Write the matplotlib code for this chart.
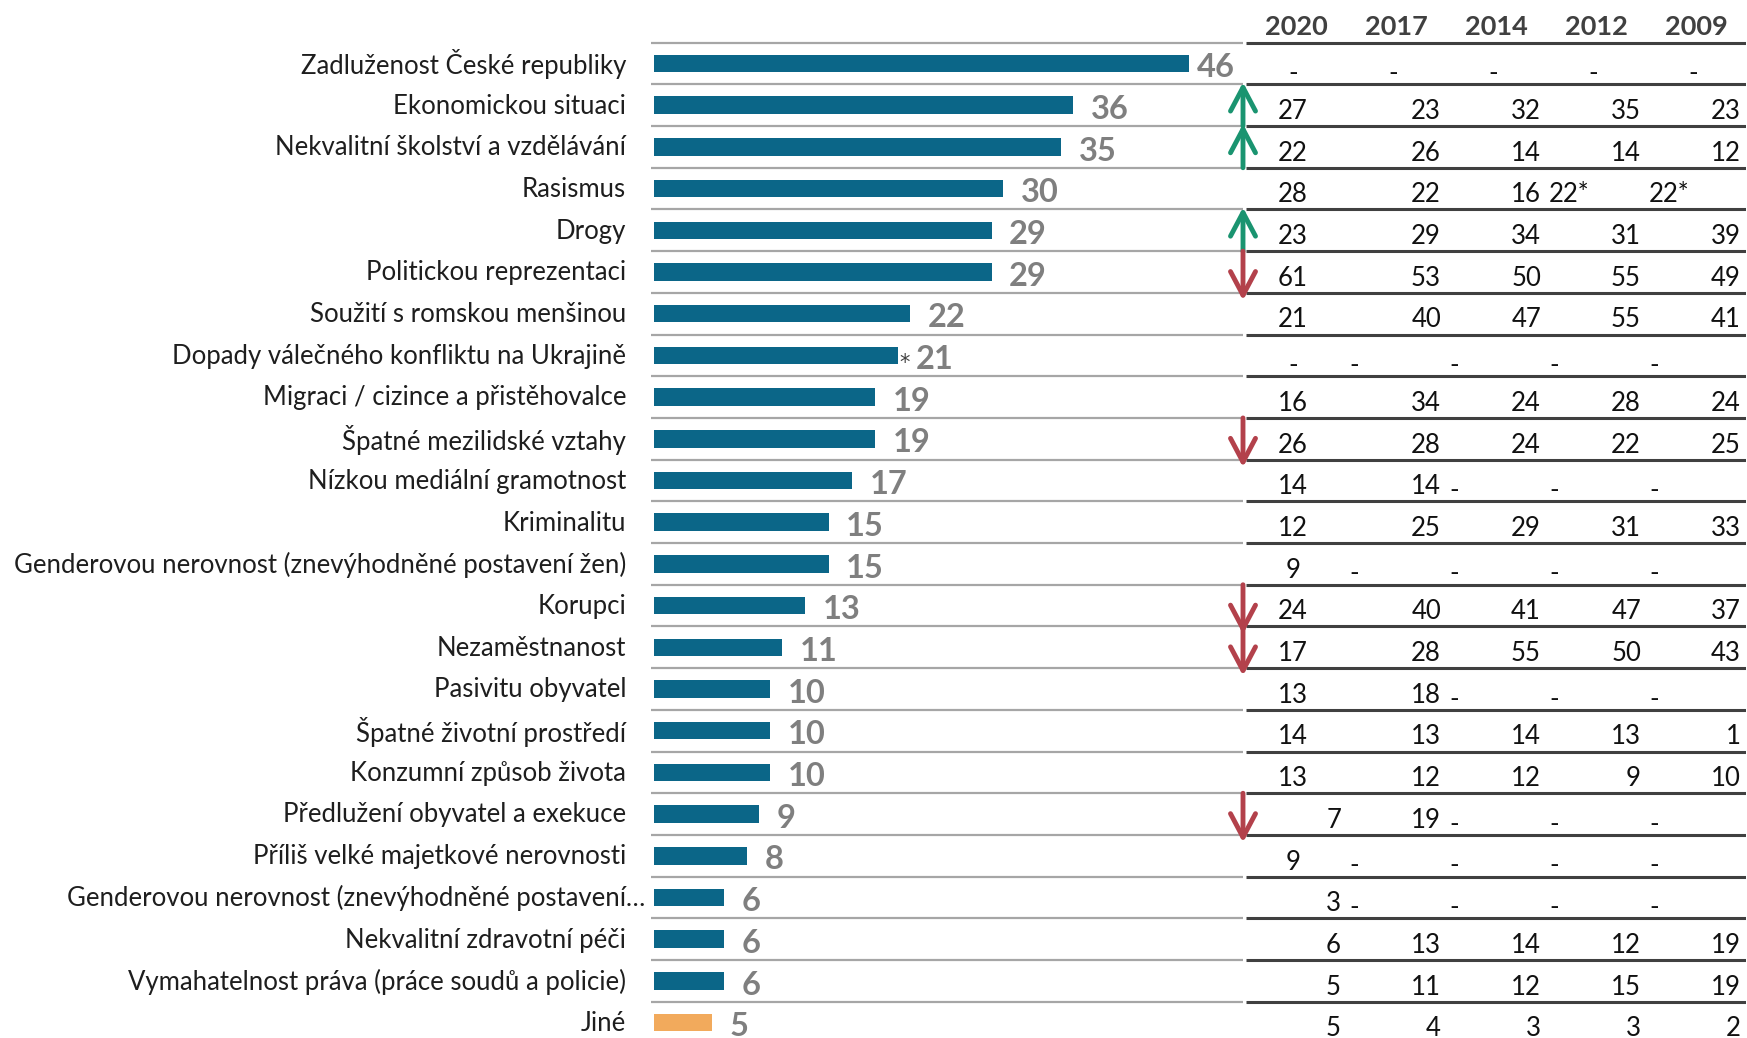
import numpy as np
import matplotlib
matplotlib.use("Agg")
import matplotlib.pyplot as plt

plt.rcParams['font.family'] = ['Lato', 'DejaVu Sans']

# categories (top to bottom) and share in %
categories = [
    "Zadluženost České republiky",
    "Ekonomickou situaci",
    "Nekvalitní školství a vzdělávání",
    "Rasismus",
    "Drogy",
    "Politickou reprezentaci",
    "Soužití s romskou menšinou",
    "Dopady válečného konfliktu na Ukrajině",
    "Migraci / cizince a přistěhovalce",
    "Špatné mezilidské vztahy",
    "Nízkou mediální gramotnost",
    "Kriminalitu",
    "Genderovou nerovnost (znevýhodněné postavení žen)",
    "Korupci",
    "Nezaměstnanost",
    "Pasivitu obyvatel",
    "Špatné životní prostředí",
    "Konzumní způsob života",
    "Předlužení obyvatel a exekuce",
    "Příliš velké majetkové nerovnosti",
    "Genderovou nerovnost (znevýhodněné postavení…",
    "Nekvalitní zdravotní péči",
    "Vymahatelnost práva (práce soudů a policie)",
    "Jiné",
]
values = [46, 36, 35, 30, 29, 29, 22, 21, 19, 19, 17, 15, 15, 13, 11, 10, 10, 10, 9, 8, 6, 6, 6, 5]
starred = [7]  # "*" next to the bar

# comparison table with earlier waves
years = ["2020", "2017", "2014", "2012", "2009"]
col_2020 = ["-", "27", "22", "28", "23", "61", "21", "-", "16", "26", "14", "12", "9", "24",
            "17", "13", "14", "13", "7", "9", "3", "6", "5", "5"]
col_2017 = ["-", "23", "26", "22", "29", "53", "40", "-", "34", "28", "14", "25", "-", "40",
            "28", "18", "13", "12", "19", "-", "-", "13", "11", "4"]
col_2014 = ["-", "32", "14", "16", "34", "50", "47", "-", "24", "24", "-", "29", "-", "41",
            "55", "-", "14", "12", "-", "-", "-", "14", "12", "3"]
col_2012 = ["-", "35", "14", "22*", "31", "55", "55", "-", "28", "22", "-", "31", "-", "47",
            "50", "-", "13", "9", "-", "-", "-", "12", "15", "3"]
col_2009 = ["-", "23", "12", "22*", "39", "49", "41", "-", "24", "25", "-", "33", "-", "37",
            "43", "-", "1", "10", "-", "-", "-", "19", "19", "2"]
table_cols = [col_2020, col_2017, col_2014, col_2012, col_2009]

# significant change vs 2020
arrow_rows = [1, 2, 4, 5, 9, 13, 14, 18]
arrow_dirs = ["up", "up", "up", "down", "down", "down", "down", "down"]

# styles
BLUE = "#0b6688"
ORANGE = "#f2aa5c"
GREEN = "#1a9470"
RED = "#b3414b"
right_2020 = [18, 20, 21, 22, 23]

W, H = 1747, 1038
fig = plt.figure(figsize=(W / 100, H / 100), dpi=100)
row0, step = 63.5, 41.7
ylim = ((H - row0) / step, -row0 / step)

# bar part
ax = fig.add_axes([646 / W, 0, (1243 - 646) / W, 1])
ax.set_xlim(-0.69, 50.6)
ax.set_ylim(*ylim)
y = np.arange(len(categories))
colors = [BLUE] * (len(values) - 1) + [ORANGE]
ax.barh(y, values, height=0.42, color=colors)
ax.hlines(np.arange(-0.5, len(categories) - 1), -0.25, 50.6, color="#a6a6a6", lw=1.6)
for i, v in enumerate(values):
    ax.text(min(v + 1.5, 46.6), i + 0.1, str(v), ha="left", va="center",
            fontsize=23.5, fontweight="bold", color="#7f7f7f")
for i in starred:
    ax.text(values[i] + 0.05, i + 0.18, "*", ha="left", va="center", fontsize=15,
            color="#404040", family="DejaVu Sans")
for i, lab in enumerate(categories):
    xo = -0.69 - 0.1 if lab.endswith("…") else -0.69 - 1.7
    ax.text(xo, i + 0.02, lab, ha="right", va="center", fontsize=18.5, color="#1e1e1e")
ax.axis("off")

# table part
tax = fig.add_axes([1246 / W, 0, 500 / W, 1])
tax.set_xlim(0, 5)
tax.set_ylim(*ylim)
tax.axis("off")
tax.hlines(np.arange(-0.5, len(categories) - 1), 0, 5, color="#404040", lw=2.2)
for c, yr in enumerate(years):
    tax.text(c + 0.5, -0.88, yr, ha="center", va="center", fontsize=19.5,
             fontweight="bold", color="#404040")
for c, col in enumerate(table_cols):
    for r, s in enumerate(col):
        if c == 0:
            if r in right_2020:
                ha, x = "right", c + 0.95
            else:
                ha, x = "center", c + 0.47
        elif r == 0:
            ha, x = "center", c + 0.47
        elif s.isdigit():
            ha, x = "right", c + 0.95
        else:
            ha, x = "left", c + 0.03
        dy = 0.24 if s == "-" else 0.15
        tax.text(x, r + dy, s, ha=ha, va="center", fontsize=18.5, color="#111111")

for r, d in zip(arrow_rows, arrow_dirs):
    if d == "up":
        tip, tail, col = r - 0.55, r + 0.5, GREEN
    else:
        tip, tail, col = r + 0.68, r - 0.5, RED
    tax.annotate("", xy=(-0.03, tip), xytext=(-0.03, tail), annotation_clip=False,
                 arrowprops=dict(arrowstyle="->,head_length=0.85,head_width=0.45",
                                 lw=3.5, color=col, mutation_scale=20,
                                 shrinkA=0, shrinkB=0))

fig.savefig("out.png", dpi=100, facecolor="white")
